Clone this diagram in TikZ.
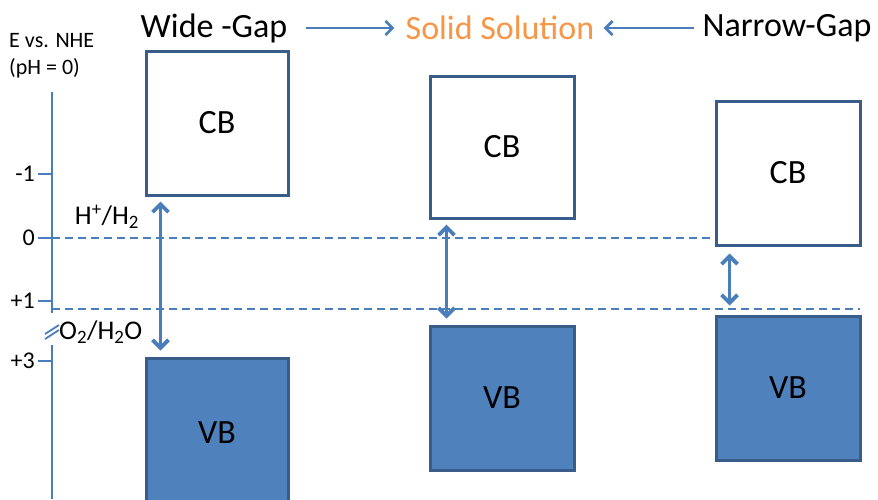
\documentclass[tikz,border=0pt]{standalone}
\usepackage{fontspec}
\setmainfont{Carlito}
\usetikzlibrary{arrows.meta}

\definecolor{boxline}{RGB}{56,93,138}
\definecolor{vbfill}{RGB}{79,129,189}
\definecolor{axisblue}{RGB}{74,126,187}
\definecolor{solidorange}{RGB}{247,150,70}

\tikzset{
  title/.style={inner sep=2pt,font=\fontsize{34}{38}\selectfont},
  cbbox/.style={draw=boxline,line width=3pt,fill=white,font=\fontsize{34}{38}\selectfont},
  vbbox/.style={cbbox,fill=vbfill},
  toparrow/.style={-{Straight Barb[length=7pt,width=14pt]},axisblue,line width=2.8pt},
  gaparrow/.style={{Straight Barb[length=8pt,width=16pt]}-{Straight Barb[length=8pt,width=16pt]},axisblue,line width=3.8pt},
  axis/.style={axisblue,line width=1.8pt},
  level/.style={axisblue,line width=1.6pt,dash pattern=on 8pt off 5pt},
  ticklab/.style={anchor=east,inner sep=1pt,font=\fontsize{24}{27}\selectfont},
  redox/.style={inner sep=1pt,font=\fontsize{27}{30}\selectfont}
}

\begin{document}
\begin{tikzpicture}[x=1pt,y=-1pt]
  \clip (0,0) rectangle (878,499);
  \fill[white] (0,0) rectangle (878,499);

  % energy axis
  \node[anchor=north west,inner sep=0pt,align=left,font=\fontsize{22}{27}\selectfont] (ehead) at (9,33) {E vs. NHE\\(pH = 0)};
  \draw[axis] (52,92) -- (52,313);
  \draw[axis] (52,345) -- (52,499);
  \draw[axis] (45,334) -- (59,325);
  \draw[axis] (45,339) -- (59,330);
  \foreach \lab/\yy in {-1/174,0/238,+1/301,+3/361}{
    \draw[axis] (38,\yy) -- (52,\yy);
    \node[ticklab] (t\yy) at (36,\yy) {\lab};
  }

  % redox levels
  \draw[level] (52,238) -- (860,238);
  \draw[level] (52,309) -- (860,309);
  \node[redox] (hlev) at (107,217) {H\textsuperscript{+}/H\textsubscript{2}};
  \node[redox,anchor=west] (olev) at (58,332) {O\textsubscript{2}/H\textsubscript{2}O};

  % headings
  \node[title] (wide) at (214,28) {Wide -Gap};
  \node[title,text=solidorange] (solid) at (500,28) {Solid Solution};
  \node[title] (narrow) at (787,28) {Narrow-Gap};
  \draw[toparrow,shorten <=17pt,shorten >=9pt] (wide) -- (solid);
  \draw[toparrow,shorten <=6pt,shorten >=7pt] (narrow) -- (solid);

  % bands
  \node[cbbox,minimum width=142pt,minimum height=144pt] (cbw) at (217,123) {CB};
  \node[vbbox,minimum width=142pt,minimum height=150pt] (vbw) at (217,433) {VB};
  \node[cbbox,minimum width=144pt,minimum height=142pt] (cbs) at (502,147) {CB};
  \node[vbbox,minimum width=144pt,minimum height=144pt] (vbs) at (502,398) {VB};
  \node[cbbox,minimum width=144pt,minimum height=144pt] (cbn) at (788,173) {CB};
  \node[vbbox,minimum width=144pt,minimum height=144pt] (vbn) at (788,388) {VB};

  % band gaps
  \draw[gaparrow] ([xshift=16pt,yshift=-5pt]cbw.south west) -- ([xshift=16pt,yshift=6pt]vbw.north west);
  \draw[gaparrow] ([xshift=18pt,yshift=-5pt]cbs.south west) -- ([xshift=18pt,yshift=6pt]vbs.north west);
  \draw[gaparrow] ([xshift=15pt,yshift=-7pt]cbn.south west) -- ([xshift=15pt,yshift=9pt]vbn.north west);
\end{tikzpicture}
\end{document}
